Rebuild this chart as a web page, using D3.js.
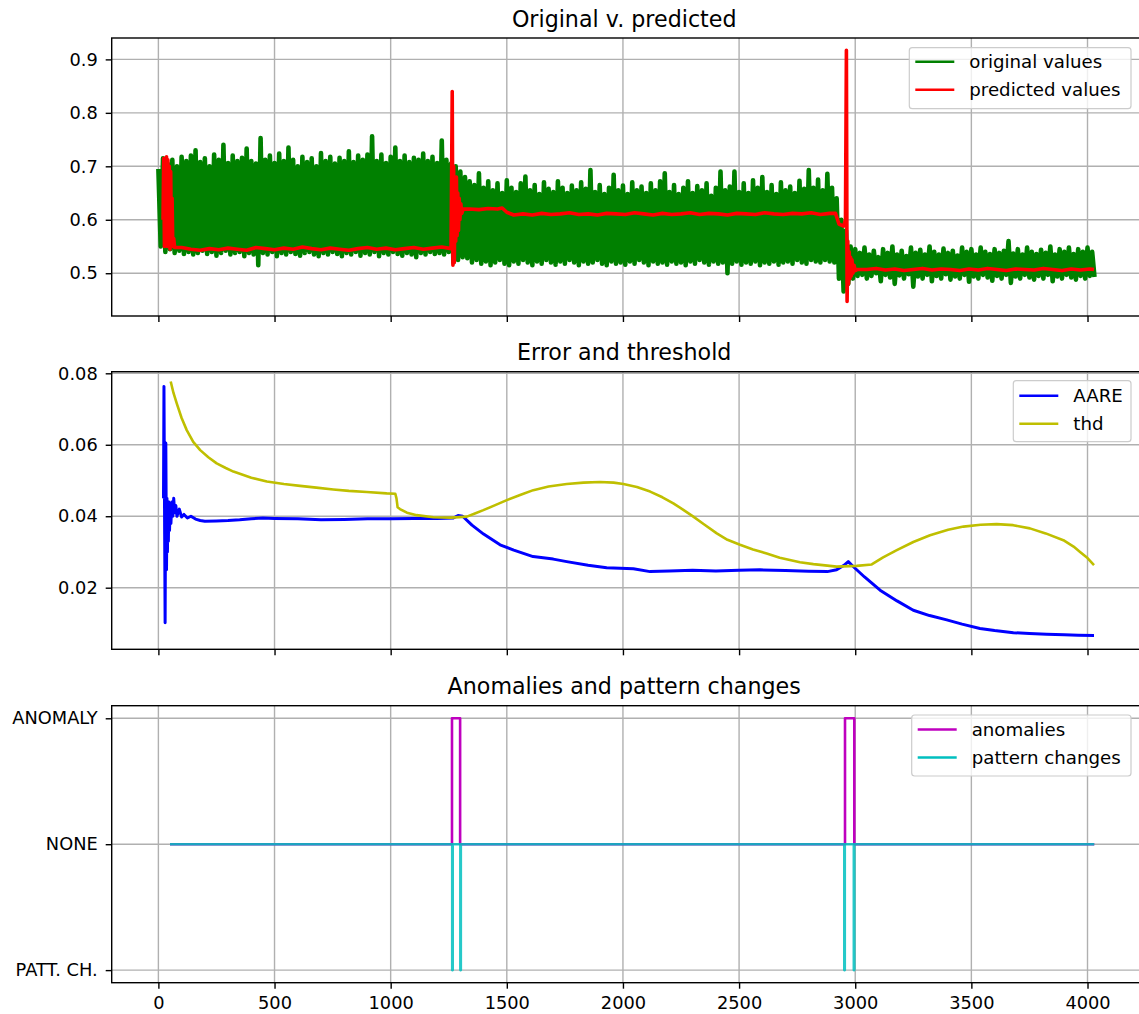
<!DOCTYPE html>
<html>
<head>
<meta charset="utf-8">
<script src="https://cdn.jsdelivr.net/npm/d3@7"></script>
<style>
  body { margin: 0; background: #fff; }
  svg { display: block; font-family: "DejaVu Sans", sans-serif; }
</style>
</head>
<body>
<svg id="chart" width="1139" height="1014"></svg>
<script>
// ---- data ----
const xTicks = [0, 500, 1000, 1500, 2000, 2500, 3000, 3500, 4000];

// original values: upper and lower excursions, one pair every 20 samples
const origStep = 20;
const origHigh = [
  .695,.715,.705,.712,.70,.718,.71,.72,.73,.708,
  .715,.70,.722,.712,.74,.706,.72,.71,.716,.733,
  .71,.705,.753,.712,.72,.706,.724,.71,.735,.712,
  .70,.718,.708,.715,.70,.725,.71,.718,.705,.716,
  .71,.728,.708,.72,.712,.722,.756,.71,.722,.706,
  .718,.735,.71,.72,.708,.716,.712,.724,.71,.718,
  .706,.748,.712,.705,.70,.69,.68,.672,.665,.687,
  .66,.672,.655,.668,.65,.674,.66,.652,.668,.681,
  .655,.665,.648,.67,.658,.652,.672,.66,.65,.664,
  .655,.67,.658,.693,.652,.665,.648,.66,.684,.655,
  .664,.648,.67,.655,.662,.65,.668,.655,.672,.687,
  .652,.665,.648,.66,.672,.65,.663,.655,.668,.645,
  .66,.69,.655,.662,.69,.652,.668,.65,.674,.66,
  .68,.652,.665,.648,.67,.655,.662,.65,.673,.658,
  .693,.66,.675,.655,.686,.66,.64,.60,.58,.55,
  .545,.538,.548,.535,.542,.53,.545,.538,.55,.535,
  .542,.532,.548,.538,.544,.535,.55,.54,.535,.546,
  .538,.542,.533,.548,.54,.545,.535,.548,.54,.536,
  .545,.538,.542,.56,.537,.545,.535,.548,.54,.536,
  .544,.538,.55,.535,.545,.54,.548,.536,.545,.54,
  .548,.54
];
const origLow = [
  .55,.54,.545,.538,.542,.536,.54,.535,.538,.542,
  .536,.54,.533,.538,.542,.535,.538,.54,.532,.538,
  .535,.515,.538,.535,.54,.532,.538,.535,.54,.536,
  .533,.538,.54,.535,.532,.538,.535,.54,.536,.532,
  .538,.535,.54,.533,.538,.535,.54,.532,.538,.535,
  .54,.536,.533,.538,.535,.53,.538,.535,.54,.536,
  .538,.535,.54,.52,.525,.53,.528,.52,.525,.518,
  .522,.515,.52,.525,.518,.515,.522,.518,.525,.52,
  .515,.522,.518,.525,.52,.516,.522,.518,.525,.52,
  .515,.522,.518,.52,.525,.518,.515,.522,.518,.52,
  .516,.522,.518,.525,.52,.515,.522,.518,.52,.516,
  .522,.518,.52,.515,.522,.518,.525,.52,.516,.522,
  .518,.52,.50,.518,.522,.516,.52,.518,.522,.515,
  .52,.518,.522,.516,.52,.522,.518,.525,.52,.518,
  .525,.522,.52,.525,.522,.52,.49,.466,.48,.49,
  .495,.497,.49,.495,.50,.485,.497,.492,.48,.496,
  .49,.498,.475,.494,.49,.497,.485,.495,.49,.498,
  .488,.494,.49,.497,.484,.494,.49,.497,.492,.486,
  .495,.49,.497,.482,.494,.49,.497,.492,.488,.495,
  .49,.497,.485,.494,.49,.497,.492,.488,.495,.49,
  .495,.493
];

// predicted values [sample, value]
const predicted = [
  [20,.60],[23,.715],[26,.55],[29,.71],[32,.555],[35,.718],[38,.55],[41,.712],[44,.56],[47,.70],
  [50,.545],[53,.69],[56,.55],[59,.64],[62,.55],[66,.565],[70,.548],
  [100,.548],[140,.545],[180,.543],[220,.546],[260,.544],[300,.547],[340,.545],[380,.543],[420,.548],[460,.546],
  [500,.544],[540,.547],[580,.545],[620,.549],[660,.546],[700,.544],[740,.547],[780,.545],[820,.543],[860,.546],
  [900,.548],[940,.545],[980,.547],[1020,.544],[1060,.546],[1100,.548],[1140,.545],[1180,.547],[1220,.549],[1260,.546],
  [1265,.84],[1268,.515],[1271,.70],[1274,.52],[1277,.66],[1280,.56],[1283,.68],[1286,.57],[1289,.65],[1292,.58],
  [1295,.64],[1298,.60],[1302,.63],[1306,.612],[1312,.62],
  [1340,.62],[1380,.619],[1420,.621],[1460,.62],[1480,.622],[1500,.614],[1530,.609],
  [1570,.611],[1610,.609],[1650,.612],[1690,.61],[1730,.611],[1770,.613],[1810,.61],[1850,.611],[1890,.609],[1930,.612],
  [1970,.611],[2010,.61],[2050,.613],[2090,.611],[2130,.609],[2170,.612],[2210,.61],[2250,.611],[2290,.613],[2330,.61],
  [2370,.612],[2410,.611],[2450,.609],[2490,.612],[2530,.611],[2570,.61],[2610,.613],[2650,.611],[2690,.61],[2730,.612],
  [2770,.611],[2810,.613],[2850,.61],[2890,.612],[2915,.612],
  [2930,.592],[2950,.588],[2958,.60],[2962,.917],[2965,.447],[2968,.56],[2971,.48],[2974,.54],[2977,.49],[2980,.53],
  [2983,.495],[2986,.525],[2990,.50],[2995,.515],[3000,.505],[3010,.507],
  [3050,.507],[3090,.509],[3130,.506],[3170,.508],[3210,.505],[3250,.507],[3290,.509],[3330,.506],[3370,.508],[3410,.507],
  [3450,.505],[3490,.508],[3530,.506],[3570,.509],[3610,.507],[3650,.505],[3690,.508],[3730,.507],[3770,.506],[3810,.509],
  [3850,.507],[3890,.505],[3930,.508],[3970,.506],[4010,.508],[4028,.507]
];

// AARE [sample, value]
const aare = [
  [22,.045],[24,.0763],[27,.035],[29,.0102],[32,.0605],[35,.025],[37,.045],[39,.03],[41,.042],[43,.033],
  [45,.044],[48,.036],[51,.043],[54,.038],[58,.044],[62,.04],[66,.045],[70,.041],[75,.043],[80,.040],
  [90,.042],[100,.0398],[110,.0405],[125,.0395],[140,.040],[160,.0392],[180,.0388],[200,.0386],[250,.0387],[300,.0388],
  [350,.039],[400,.0393],[450,.0395],[500,.0394],[600,.0393],[700,.039],[800,.0391],[900,.0393],[1000,.0393],[1100,.0394],
  [1200,.0394],[1270,.0395],[1290,.0402],[1310,.040],[1350,.0375],[1400,.035],[1471,.032],[1530,.0305],[1613,.0287],[1700,.028],
  [1758,.0273],[1850,.0263],[1930,.0256],[2045,.0253],[2117,.0245],[2200,.0247],[2300,.0249],[2400,.0247],[2500,.0249],[2590,.025],
  [2700,.0248],[2800,.0246],[2880,.0245],[2920,.025],[2950,.0262],[2970,.0273],[2990,.026],[3040,.023],[3107,.0193],[3180,.0163],
  [3250,.0137],[3320,.0122],[3394,.011],[3460,.0098],[3537,.0086],[3600,.008],[3681,.0074],[3750,.0072],[3824,.0070],[3900,.0068],
  [3960,.0067],[4028,.0066]
];

// threshold [sample, value]
const thd = [
  [53,.0777],[65,.0745],[79,.0716],[100,.0675],[122,.0641],[150,.0608],[180,.0585],[215,.0565],[251,.0548],[290,.0535],
  [323,.0525],[400,.0508],[467,.0497],[540,.049],[610,.0485],[680,.048],[753,.0475],[820,.0471],[897,.0468],[983,.0464],
  [1020,.0463],[1025,.045],[1030,.0425],[1040,.042],[1070,.041],[1112,.0403],[1184,.0397],[1260,.0396],[1328,.0399],[1360,.0407],
  [1399,.0417],[1450,.0431],[1500,.0445],[1560,.046],[1614,.0473],[1680,.0483],[1758,.049],[1830,.0494],[1901,.0496],[1960,.0494],
  [2002,.049],[2060,.0482],[2117,.0469],[2170,.0453],[2217,.0436],[2260,.0418],[2303,.0399],[2350,.0377],[2404,.0352],[2450,.0334],
  [2504,.032],[2560,.0307],[2619,.0296],[2675,.0284],[2762,.0271],[2820,.0266],[2920,.0259],[3006,.0261],[3071,.0265],[3120,.0285],
  [3179,.0305],[3250,.0328],[3322,.0347],[3400,.0362],[3466,.0371],[3540,.0376],[3609,.0378],[3680,.0375],[3752,.0366],[3820,.0352],
  [3896,.0333],[3940,.0315],[3968,.030],[4000,.0283],[4028,.0263]
];

// state signals (step after): -1 pattern change, 0 none, 1 anomaly
const stateValues = [-1, 0, 1];
const stateLabels = ["PATT. CH.", "NONE", "ANOMALY"];
const anomX = [50, 1264, 1299, 2956, 2996, 4029];
const anomState = [0, 1, 0, 1, 0, 0];
const pattX = [50, 1265, 1267, 1300, 1302, 2953, 2955, 2994, 2996, 4029];
const pattState = [0, -1, 0, -1, 0, -1, 0, -1, 0, 0];

// ---- layout ----
const left = 111.7, right = 1140.7;
const tickSize = 17.8, legendSize = 18.2, titleSize = 22.2;
const lw = 2.6;

const svg = d3.select("#chart");
svg.append("rect").attr("width", 1139).attr("height", 1014).attr("fill", "#fff");

const x = d3.scaleLinear().domain([-201, 4229]).range([left, right]);

function zigzag(hi, lo, step) {
  const pts = [];
  for (let i = 0; i < hi.length; i++) {
    pts.push([i * step, hi[i]]);
    pts.push([i * step + step / 2, lo[i]]);
  }
  return pts;
}

function zip(xs, ys) {
  return xs.map(function(v, i) { return [v, ys[i]]; });
}

function make_panel(cfg, idx) {
  const y = d3.scaleLinear().domain(cfg.domain).range([cfg.bottom, cfg.top]);
  const g = svg.append("g");

  const clipId = "clip" + idx;
  svg.append("clipPath").attr("id", clipId)
    .append("rect").attr("x", left).attr("y", cfg.top)
    .attr("width", right - left).attr("height", cfg.bottom - cfg.top);

  // grid
  g.append("g").selectAll("line").data(xTicks).join("line")
    .attr("x1", d => x(d)).attr("x2", d => x(d))
    .attr("y1", cfg.top).attr("y2", cfg.bottom)
    .attr("stroke", "#b0b0b0").attr("stroke-width", 1.4);
  g.append("g").selectAll("line").data(cfg.yTicks).join("line")
    .attr("x1", left).attr("x2", right)
    .attr("y1", d => y(d)).attr("y2", d => y(d))
    .attr("stroke", "#b0b0b0").attr("stroke-width", 1.4);

  // series
  const plot = g.append("g").attr("clip-path", "url(#" + clipId + ")");
  cfg.series.forEach(function(s) {
    const line = d3.line()
      .x(d => x(d[0]))
      .y(d => y(d[1]))
      .curve(s.step ? d3.curveStepAfter : d3.curveLinear);
    plot.append("path")
      .datum(s.data)
      .attr("d", line)
      .attr("fill", "none")
      .attr("stroke", s.color)
      .attr("stroke-opacity", s.opacity || 1)
      .attr("stroke-width", s.width || lw)
      .attr("stroke-linejoin", "round");
  });

  // axes
  const yAxis = d3.axisLeft(y).tickValues(cfg.yTicks).tickSize(6).tickPadding(8)
    .tickFormat(cfg.yFormat);
  const ya = g.append("g").attr("transform", "translate(" + left + ",0)").call(yAxis);
  const xAxis = d3.axisBottom(x).tickValues(xTicks).tickSize(6).tickPadding(8)
    .tickFormat(cfg.showX ? d3.format("d") : () => "");
  const xa = g.append("g").attr("transform", "translate(0," + cfg.bottom + ")").call(xAxis);
  [ya, xa].forEach(function(a) {
    a.select(".domain").remove();
    a.selectAll("line").attr("stroke", "#000").attr("stroke-width", 1.4);
    a.selectAll("text").attr("fill", "#000").style("font-size", tickSize + "px")
      .style("font-family", "DejaVu Sans, sans-serif");
  });

  // spines
  g.append("rect").attr("x", left).attr("y", cfg.top)
    .attr("width", right - left).attr("height", cfg.bottom - cfg.top)
    .attr("fill", "none").attr("stroke", "#000").attr("stroke-width", 1.4);

  // title
  g.append("text").attr("x", (left + right) / 2 - 2).attr("y", cfg.top - 11.5)
    .attr("text-anchor", "middle").style("font-size", titleSize + "px")
    .attr("fill", "#000").text(cfg.title);

  // legend
  const lg = g.append("g");
  const boxL = right - 9.7 - cfg.legendW;
  lg.append("rect").attr("x", boxL).attr("y", cfg.legendTop)
    .attr("width", cfg.legendW).attr("height", 61)
    .attr("rx", 3).attr("fill", "#fff").attr("fill-opacity", 0.8)
    .attr("stroke", "#cccccc").attr("stroke-width", 1.2);
  cfg.series.forEach(function(s, i) {
    const ry = cfg.legendTop + cfg.legendRow0 + i * 28;
    lg.append("line").attr("x1", boxL + 6).attr("x2", boxL + 45)
      .attr("y1", ry).attr("y2", ry)
      .attr("stroke", s.color).attr("stroke-width", lw);
    lg.append("text").attr("x", boxL + 60).attr("y", ry).attr("dy", "0.35em")
      .style("font-size", legendSize + "px").attr("fill", "#000").text(s.label);
  });
}

const panels = [
  {
    top: 38, bottom: 316, domain: [0.42, 0.94], yTicks: [0.5, 0.6, 0.7, 0.8, 0.9],
    yFormat: d3.format(".1f"), title: "Original v. predicted", showX: false,
    legendTop: 47.7, legendRow0: 14, legendW: 221.7,
    series: [
      {label: "original values", color: "#008000", width: 4.6, data: zigzag(origHigh, origLow, origStep)},
      {label: "predicted values", color: "#ff0000", width: 3.6, data: predicted}
    ]
  },
  {
    top: 371.7, bottom: 649.3, domain: [0.00276, 0.08045], yTicks: [0.02, 0.04, 0.06, 0.08],
    yFormat: d3.format(".2f"), title: "Error and threshold", showX: false,
    legendTop: 380.7, legendRow0: 15, legendW: 117.7,
    series: [
      {label: "AARE", color: "#0000ff", width: 3.0, data: aare},
      {label: "thd", color: "#bfbf00", data: thd}
    ]
  },
  {
    top: 705.7, bottom: 982.7, domain: [-1.1, 1.1], yTicks: stateValues,
    yFormat: d => stateLabels[stateValues.indexOf(d)], title: "Anomalies and pattern changes", showX: true,
    legendTop: 715, legendRow0: 14.5, legendW: 219.3,
    series: [
      {label: "anomalies", color: "#bf00bf", step: true, data: zip(anomX, anomState)},
      {label: "pattern changes", color: "#00bfbf", step: true, opacity: 0.85, data: zip(pattX, pattState)}
    ]
  }
];

panels.forEach(make_panel);
</script>
</body>
</html>
